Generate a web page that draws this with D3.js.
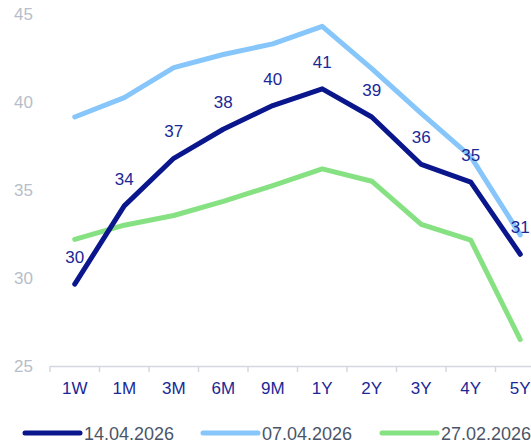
<!DOCTYPE html>
<html>
<head>
<meta charset="utf-8">
<script src="https://cdn.jsdelivr.net/npm/d3@7"></script>
<style>
  body { margin: 0; background: #fff; }
  svg { display: block; font-family: "Liberation Sans", Arial, sans-serif; }
</style>
</head>
<body>
<div class="chart"></div>
<script>
var svgWidth = 531;
var svgHeight = 443;

// tenors
var tenors = ["1W", "1M", "3M", "6M", "9M", "1Y", "2Y", "3Y", "4Y", "5Y"];
var yTicks = [25, 30, 35, 40, 45];

// series values
var series1Name = "14.04.2026";
var series1 = [29.65, 34.1, 36.8, 38.45, 39.8, 40.75, 39.15, 36.45, 35.45, 31.35];
var series2Name = "07.04.2026";
var series2 = [39.15, 40.25, 41.95, 42.7, 43.3, 44.3, 41.9, 39.35, 36.9, 32.45];
var series3Name = "27.02.2026";
var series3 = [32.2, 33.0, 33.55, 34.35, 35.25, 36.2, 35.5, 33.05, 32.15, 26.5];

var colors = ["#0a168c", "#86c6fa", "#86e182"];

var svg = d3.select(".chart")
  .append("svg")
  .attr("width", svgWidth)
  .attr("height", svgHeight);

var xScale = d3.scaleBand()
  .domain(tenors)
  .range([50, 545]);

var yScale = d3.scaleLinear()
  .domain([25, 45])
  .range([366, 14]);

// y labels
var yAxis = svg.append("g")
  .attr("transform", "translate(33,0)")
  .call(d3.axisLeft(yScale).tickValues(yTicks).tickSize(0).tickPadding(0));
yAxis.select(".domain").remove();
yAxis.selectAll("text")
  .attr("fill", "#b7bec9")
  .style("font-size", "17px")
  .style("font-family", "Liberation Sans, Arial, sans-serif");

// x axis line + tick marks on band edges
svg.append("line")
  .attr("x1", xScale.range()[0])
  .attr("x2", xScale.range()[1])
  .attr("y1", yScale(25) + 0.5)
  .attr("y2", yScale(25) + 0.5)
  .attr("stroke", "#d3d8e0")
  .attr("stroke-width", 1.5);

svg.selectAll(".xtick")
  .data(tenors)
  .enter()
  .append("line")
  .attr("class", "xtick")
  .attr("x1", d => xScale(d))
  .attr("x2", d => xScale(d))
  .attr("y1", yScale(25))
  .attr("y2", yScale(25) + 6)
  .attr("stroke", "#d3d8e0")
  .attr("stroke-width", 1.5);

var xAxis = svg.append("g")
  .attr("transform", `translate(0, ${yScale(25)})`)
  .call(d3.axisBottom(xScale).tickSize(0).tickPadding(16));
xAxis.select(".domain").remove();
xAxis.selectAll("text")
  .attr("fill", "#1a2896")
  .style("font-size", "17px")
  .style("font-family", "Liberation Sans, Arial, sans-serif");

var line = d3.line()
  .x((d, i) => xScale(tenors[i]) + xScale.bandwidth() / 2)
  .y(d => yScale(d));

// draw back to front
[[series3, colors[2]], [series2, colors[1]], [series1, colors[0]]].forEach(function (s) {
  svg.append("path")
    .datum(s[0])
    .attr("d", line)
    .attr("fill", "none")
    .attr("stroke", s[1])
    .attr("stroke-width", 5)
    .attr("stroke-linejoin", "round")
    .attr("stroke-linecap", "round");
});

// data labels on the first series
svg.selectAll(".dlabel")
  .data(series1)
  .enter()
  .append("text")
  .attr("class", "dlabel")
  .attr("x", (d, i) => xScale(tenors[i]) + xScale.bandwidth() / 2)
  .attr("y", d => yScale(d) - 21)
  .attr("text-anchor", "middle")
  .attr("fill", "#1a2896")
  .style("font-size", "17px")
  .text(d => Math.round(d));

// legend
var legendItems = [
  { name: series1Name, color: colors[0], x: 25 },
  { name: series2Name, color: colors[1], x: 203 },
  { name: series3Name, color: colors[2], x: 382 }
];

var legend = svg.selectAll(".legend")
  .data(legendItems)
  .enter()
  .append("g")
  .attr("class", "legend")
  .attr("transform", d => `translate(${d.x}, 433)`);

legend.append("line")
  .attr("x1", 0)
  .attr("x2", 55)
  .attr("stroke", d => d.color)
  .attr("stroke-width", 5)
  .attr("stroke-linecap", "round");

legend.append("text")
  .attr("x", 59)
  .attr("y", 6.5)
  .attr("fill", "#4b5567")
  .style("font-size", "18px")
  .text(d => d.name);
</script>
</body>
</html>
